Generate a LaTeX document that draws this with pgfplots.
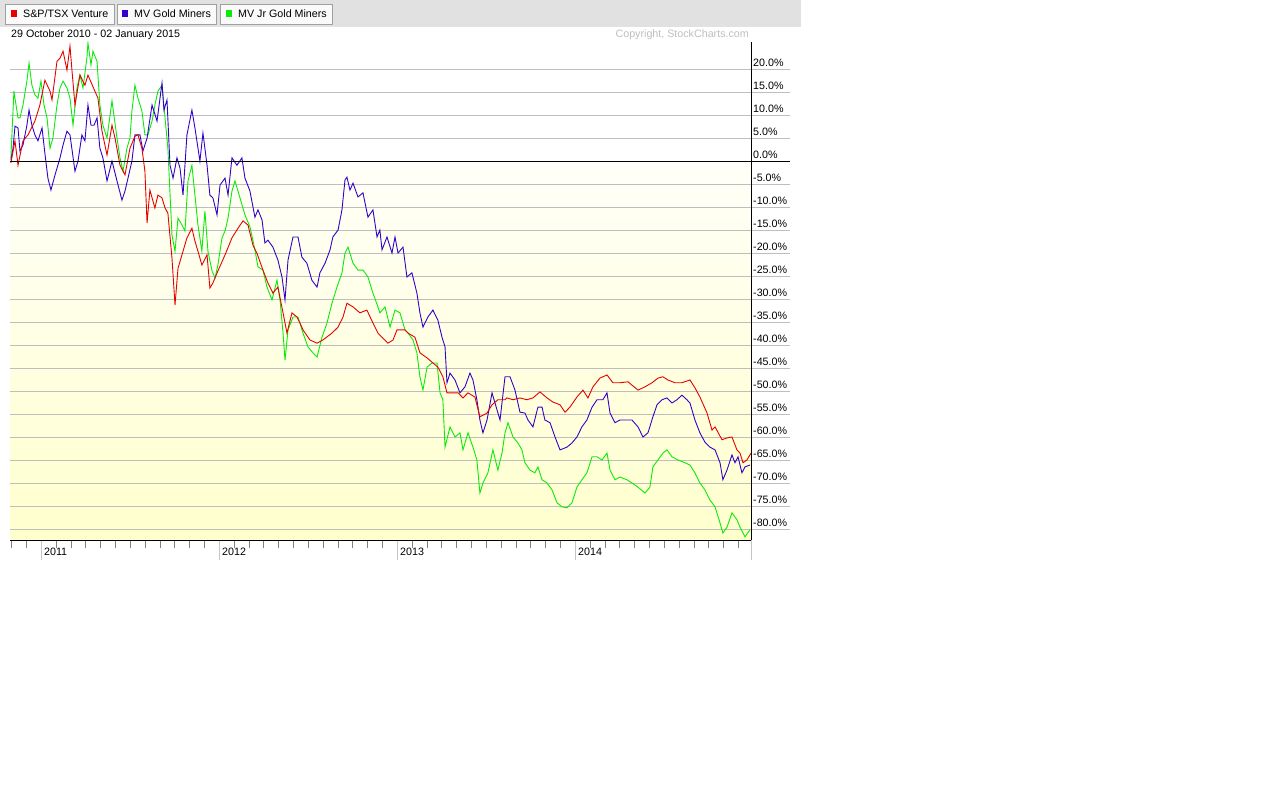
\documentclass[border=0pt]{standalone}
\usepackage{pgfplots}
\pgfplotsset{compat=1.18}
\usepackage{fontspec}
\setmainfont{Liberation Sans}

\definecolor{sred}{RGB}{230,0,0}
\definecolor{sblue}{RGB}{51,0,204}
\definecolor{sgreen}{RGB}{10,235,10}
\definecolor{gridgray}{RGB}{190,190,190}
\definecolor{hdrgray}{RGB}{225,225,225}
\definecolor{btnline}{RGB}{160,160,160}

\begin{document}
\fontsize{10.7}{13}\selectfont
\begin{tikzpicture}[x=1pt,y=1pt]
\fill[white] (0,0) rectangle (1280,-800);
% header bar with the three series buttons
\fill[hdrgray] (0,0) rectangle (801,-27);
\draw[btnline, fill=gray!4] (5,-4) rectangle (114,-24);
\draw[btnline, fill=gray!4] (117,-4) rectangle (216,-24);
\draw[btnline, fill=gray!4] (220,-4) rectangle (332,-24);
\fill[sred] (11,-10) rectangle (17,-17);
\fill[sblue] (122,-10) rectangle (128,-17);
\fill[sgreen] (226,-10) rectangle (232,-17);
\node[anchor=base west, inner sep=0pt] at (23,-18) {S\&P/TSX Venture};
\node[anchor=base west, inner sep=0pt] at (134,-18) {MV Gold Miners};
\node[anchor=base west, inner sep=0pt] at (238,-18) {MV Jr Gold Miners};
\node[anchor=base west, inner sep=0pt] at (11,-37.5) {29 October 2010 - 02 January 2015};
\node[anchor=base east, inner sep=0pt, text=gray!50] at (749,-38) {Copyright, StockCharts.com};
% pale yellow below the zero line
\fill[top color={rgb,255:red,255;green,255;blue,248}, bottom color={rgb,255:red,255;green,255;blue,205}]
  (10,-161.5) rectangle (751,-540);
% grid lines run on past the right axis under the labels
\foreach \v in {-80,-75,...,20} {
  \pgfmathsetmacro{\yy}{-540+4.59834*(\v+82.3)}
  \draw[gridgray] (751,\yy) -- (790,\yy);
}

\begin{axis}[
    at={(10pt,-540pt)}, anchor=south west,
    scale only axis, width=741pt, height=498pt,
    xmin=2010.826, xmax=2014.989, ymin=-82.3, ymax=26,
    axis line style={draw=none},
    xtick={2011,2012,2013,2014},
    xticklabels={2011,2012,2013,2014},
    minor xtick={2010.8333,2010.9167,
      2011.0833,2011.1667,2011.25,2011.3333,2011.4167,2011.5,2011.5833,2011.6667,2011.75,2011.8333,2011.9167,
      2012.0833,2012.1667,2012.25,2012.3333,2012.4167,2012.5,2012.5833,2012.6667,2012.75,2012.8333,2012.9167,
      2013.0833,2013.1667,2013.25,2013.3333,2013.4167,2013.5,2013.5833,2013.6667,2013.75,2013.8333,2013.9167,
      2014.0833,2014.1667,2014.25,2014.3333,2014.4167,2014.5,2014.5833,2014.6667,2014.75,2014.8333,2014.9167},
    xtick pos=bottom, tick align=outside,
    major tick length=20pt, minor tick length=8pt,
    major x tick style={gray!45},
    minor x tick style={gray},
    ytick={-80,-75,...,20},
    ymajorgrids,
    major grid style={gridgray},
    ytick pos=right,
    ytick style={draw=none},
    /pgf/number format/assume math mode=true,
    yticklabel={\pgfmathprintnumber[fixed,fixed zerofill,precision=1]{\tick}\%},
    yticklabel style={anchor=south west, inner sep=0pt, xshift=-18pt, yshift=3pt},
    xticklabel style={anchor=base west, inner sep=0pt, xshift=3pt, yshift=4.5pt},
    every axis plot/.append style={line width=0.9pt},
]
\coordinate (zero) at (axis cs:2010.826,0);

% MV Jr Gold Miners
\addplot[sgreen] coordinates {
(2010.831,0.8) (2010.848,15.3) (2010.871,9.5) (2010.882,9.5) (2010.899,12.3) (2010.921,17.5)
(2010.933,21.4) (2010.949,16.6) (2010.966,14.5) (2010.983,13.8) (2011.000,17.5) (2011.017,12.3)
(2011.034,9.5) (2011.051,2.9) (2011.067,5.1) (2011.090,12.3) (2011.107,16.0) (2011.124,17.5)
(2011.146,16.0) (2011.163,13.8) (2011.180,7.9) (2011.202,16.0) (2011.219,18.8) (2011.236,16.0)
(2011.258,22.5) (2011.264,25.8) (2011.281,21.0) (2011.292,24.0) (2011.315,21.8) (2011.331,12.3)
(2011.348,7.9) (2011.371,5.1) (2011.399,13.2) (2011.427,5.1) (2011.444,0.8) (2011.461,-2.1)
(2011.483,2.9) (2011.500,5.1) (2011.511,11.0) (2011.528,16.6) (2011.545,13.8) (2011.567,11.0)
(2011.584,5.8) (2011.601,5.8) (2011.624,8.8) (2011.640,12.3) (2011.657,15.3) (2011.680,16.6)
(2011.697,9.5) (2011.713,2.9) (2011.736,-16.0) (2011.753,-19.5) (2011.770,-12.3) (2011.792,-13.8)
(2011.809,-15.1) (2011.826,-4.2) (2011.848,-0.8) (2011.865,-7.3) (2011.882,-13.8) (2011.904,-19.5)
(2011.921,-10.8) (2011.938,-19.5) (2011.961,-23.8) (2011.978,-25.3) (2011.994,-22.5) (2012.017,-16.6)
(2012.034,-15.1) (2012.051,-12.3) (2012.073,-6.4) (2012.090,-4.2) (2012.118,-7.9) (2012.146,-11.6)
(2012.174,-14.2) (2012.202,-19.2) (2012.219,-22.9) (2012.247,-23.6) (2012.270,-27.3) (2012.298,-30.1)
(2012.326,-25.8) (2012.343,-30.1) (2012.360,-37.3) (2012.371,-43.2) (2012.388,-36.6) (2012.416,-33.8)
(2012.444,-33.8) (2012.472,-37.3) (2012.500,-40.3) (2012.528,-41.6) (2012.551,-42.5) (2012.579,-38.2)
(2012.607,-35.1) (2012.635,-30.8) (2012.663,-27.3) (2012.691,-24.2) (2012.708,-19.9) (2012.725,-18.6)
(2012.753,-22.1) (2012.781,-23.6) (2012.809,-23.6) (2012.837,-25.1) (2012.865,-28.6) (2012.893,-31.6)
(2012.904,-32.9) (2012.933,-31.6) (2012.961,-36.0) (2012.989,-32.3) (2013.017,-32.9) (2013.045,-36.6)
(2013.062,-37.3) (2013.090,-38.8) (2013.112,-41.6) (2013.129,-46.8) (2013.146,-49.7) (2013.169,-44.7)
(2013.197,-43.8) (2013.225,-43.8) (2013.242,-50.3) (2013.258,-51.8) (2013.270,-62.1) (2013.298,-57.7)
(2013.326,-59.9) (2013.354,-59.0) (2013.371,-62.7) (2013.399,-59.0) (2013.427,-62.1) (2013.449,-64.9)
(2013.466,-72.1) (2013.483,-69.9) (2013.511,-67.7) (2013.539,-62.7) (2013.567,-67.1) (2013.590,-63.4)
(2013.607,-59.0) (2013.624,-56.8) (2013.652,-59.9) (2013.680,-61.2) (2013.702,-62.7) (2013.719,-65.5)
(2013.747,-67.1) (2013.775,-67.7) (2013.792,-66.4) (2013.815,-69.2) (2013.843,-69.9) (2013.871,-71.4)
(2013.899,-74.2) (2013.927,-75.1) (2013.955,-75.3) (2013.983,-74.2) (2014.011,-70.8) (2014.039,-69.2)
(2014.067,-67.7) (2014.096,-64.2) (2014.124,-64.2) (2014.152,-64.9) (2014.180,-63.4) (2014.197,-67.1)
(2014.225,-69.2) (2014.253,-68.6) (2014.292,-69.2) (2014.320,-69.9) (2014.354,-70.8) (2014.393,-72.1)
(2014.421,-70.8) (2014.438,-66.4) (2014.466,-64.9) (2014.494,-63.4) (2014.517,-62.7) (2014.545,-64.2)
(2014.579,-64.9) (2014.618,-65.5) (2014.646,-66.0) (2014.674,-67.7) (2014.702,-69.9) (2014.730,-71.4)
(2014.758,-73.6) (2014.787,-75.1) (2014.815,-78.6) (2014.831,-80.8) (2014.854,-79.5) (2014.882,-76.4)
(2014.910,-77.9) (2014.927,-79.5) (2014.955,-81.6) (2014.983,-80.1)
};

% MV Gold Miners
\addplot[sblue] coordinates {
(2010.831,0.3) (2010.843,2.9) (2010.854,7.7) (2010.871,7.3) (2010.882,2.3) (2010.899,3.6)
(2010.921,7.9) (2010.933,11.2) (2010.949,7.9) (2010.966,5.8) (2010.983,4.5) (2011.006,7.3)
(2011.022,1.8) (2011.039,-3.6) (2011.056,-6.2) (2011.079,-2.9) (2011.107,0.8) (2011.124,3.6)
(2011.146,6.6) (2011.163,5.8) (2011.191,-2.1) (2011.208,0.1) (2011.230,5.8) (2011.247,4.5)
(2011.264,12.3) (2011.281,7.9) (2011.298,7.9) (2011.315,9.5) (2011.331,2.9) (2011.348,0.8)
(2011.371,-4.2) (2011.399,0.1) (2011.427,-4.2) (2011.455,-8.4) (2011.472,-6.4) (2011.489,-3.6)
(2011.511,0.1) (2011.528,5.8) (2011.556,5.8) (2011.573,2.3) (2011.596,5.1) (2011.624,12.3)
(2011.652,8.8) (2011.680,17.1) (2011.691,11.2) (2011.708,13.4) (2011.725,-0.8) (2011.742,-3.6)
(2011.764,0.8) (2011.781,-1.4) (2011.798,-7.3) (2011.820,5.8) (2011.848,11.2) (2011.865,7.3)
(2011.893,0.1) (2011.910,6.2) (2011.933,-0.8) (2011.949,-7.3) (2011.966,-7.9) (2011.989,-11.6)
(2012.006,-5.1) (2012.034,-3.6) (2012.051,-7.3) (2012.073,0.8) (2012.101,-0.8) (2012.129,0.8)
(2012.146,-3.6) (2012.174,-6.4) (2012.202,-12.1) (2012.219,-10.5) (2012.242,-12.7) (2012.258,-17.7)
(2012.275,-17.1) (2012.303,-18.6) (2012.331,-21.4) (2012.354,-25.1) (2012.371,-30.1) (2012.388,-21.4)
(2012.416,-16.4) (2012.444,-16.4) (2012.466,-20.8) (2012.494,-22.1) (2012.522,-25.8) (2012.551,-27.3)
(2012.567,-24.2) (2012.596,-22.1) (2012.624,-19.2) (2012.640,-16.4) (2012.669,-14.9) (2012.691,-10.5)
(2012.708,-4.0) (2012.719,-3.4) (2012.736,-6.2) (2012.753,-4.7) (2012.781,-7.7) (2012.809,-6.8)
(2012.837,-12.1) (2012.865,-10.5) (2012.888,-16.4) (2012.904,-14.9) (2012.916,-19.2) (2012.944,-16.4)
(2012.972,-19.9) (2012.989,-16.4) (2013.006,-19.9) (2013.034,-18.6) (2013.056,-25.1) (2013.084,-24.2)
(2013.112,-28.6) (2013.129,-32.9) (2013.146,-36.0) (2013.174,-33.8) (2013.202,-32.3) (2013.230,-34.5)
(2013.253,-38.2) (2013.270,-40.3) (2013.281,-48.1) (2013.298,-46.0) (2013.326,-47.5) (2013.354,-50.3)
(2013.382,-49.0) (2013.410,-46.0) (2013.427,-47.5) (2013.449,-51.8) (2013.466,-56.2) (2013.483,-59.0)
(2013.506,-56.2) (2013.534,-50.3) (2013.562,-54.0) (2013.579,-56.2) (2013.607,-46.8) (2013.635,-46.8)
(2013.663,-49.7) (2013.691,-54.5) (2013.719,-54.7) (2013.736,-56.2) (2013.764,-57.7) (2013.792,-53.4)
(2013.815,-53.4) (2013.831,-56.2) (2013.860,-56.8) (2013.888,-59.9) (2013.916,-62.7) (2013.955,-62.1)
(2013.983,-61.2) (2014.011,-59.9) (2014.039,-57.7) (2014.067,-56.2) (2014.096,-53.4) (2014.124,-51.8)
(2014.157,-51.8) (2014.180,-50.3) (2014.197,-54.7) (2014.225,-56.8) (2014.253,-56.2) (2014.292,-56.2)
(2014.320,-56.2) (2014.354,-57.7) (2014.382,-59.9) (2014.410,-59.0) (2014.438,-55.5) (2014.461,-52.9)
(2014.489,-51.8) (2014.517,-51.4) (2014.545,-52.5) (2014.573,-51.8) (2014.601,-50.8) (2014.629,-51.8)
(2014.646,-52.5) (2014.674,-56.2) (2014.702,-59.0) (2014.730,-61.0) (2014.758,-62.1) (2014.787,-62.7)
(2014.815,-65.5) (2014.831,-69.2) (2014.854,-67.1) (2014.882,-63.8) (2014.899,-65.5) (2014.916,-64.2)
(2014.938,-67.7) (2014.955,-66.4) (2014.983,-66.0)
};

% S&P/TSX Venture
\addplot[sred] coordinates {
(2010.831,-0.3) (2010.854,4.5) (2010.871,-0.8) (2010.899,4.5) (2010.927,5.8) (2010.966,8.8)
(2010.994,12.3) (2011.022,17.7) (2011.051,15.3) (2011.062,13.4) (2011.090,21.8) (2011.107,22.5)
(2011.124,24.0) (2011.146,19.9) (2011.163,25.1) (2011.174,19.9) (2011.191,12.3) (2011.219,18.8)
(2011.247,16.6) (2011.264,18.8) (2011.303,15.3) (2011.320,13.8) (2011.343,6.6) (2011.371,1.4)
(2011.399,7.9) (2011.416,5.1) (2011.444,-0.8) (2011.472,-2.9) (2011.500,2.9) (2011.528,5.5)
(2011.545,5.8) (2011.567,2.9) (2011.584,-2.1) (2011.596,-13.4) (2011.612,-6.2) (2011.640,-10.1)
(2011.657,-7.3) (2011.680,-7.9) (2011.697,-10.1) (2011.713,-11.2) (2011.736,-21.0) (2011.753,-31.2)
(2011.770,-23.2) (2011.792,-20.3) (2011.820,-16.6) (2011.848,-14.5) (2011.865,-17.3) (2011.882,-19.5)
(2011.904,-22.5) (2011.933,-20.3) (2011.949,-27.5) (2011.966,-26.4) (2011.994,-23.8) (2012.034,-20.3)
(2012.073,-16.6) (2012.107,-14.5) (2012.135,-12.9) (2012.163,-13.8) (2012.191,-18.2) (2012.213,-19.9)
(2012.247,-23.6) (2012.275,-26.4) (2012.303,-28.6) (2012.331,-27.3) (2012.360,-32.9) (2012.382,-37.3)
(2012.410,-32.9) (2012.438,-33.8) (2012.455,-35.1) (2012.472,-36.6) (2012.511,-38.8) (2012.551,-39.5)
(2012.584,-38.8) (2012.635,-37.3) (2012.669,-36.0) (2012.697,-33.8) (2012.719,-30.8) (2012.753,-31.6)
(2012.792,-32.9) (2012.831,-32.3) (2012.865,-35.1) (2012.893,-37.3) (2012.916,-38.2) (2012.949,-39.5)
(2012.978,-38.8) (2013.000,-36.6) (2013.045,-36.6) (2013.062,-37.3) (2013.101,-38.2) (2013.129,-41.6)
(2013.169,-42.7) (2013.202,-43.8) (2013.230,-44.7) (2013.258,-46.8) (2013.281,-50.3) (2013.309,-50.3)
(2013.343,-50.3) (2013.371,-51.4) (2013.399,-50.3) (2013.438,-51.2) (2013.466,-55.5) (2013.506,-54.7)
(2013.534,-52.9) (2013.567,-51.8) (2013.607,-51.8) (2013.618,-51.4) (2013.652,-51.8) (2013.691,-51.4)
(2013.730,-51.8) (2013.764,-51.4) (2013.803,-50.1) (2013.843,-51.4) (2013.876,-52.3) (2013.916,-52.9)
(2013.944,-54.5) (2013.972,-53.4) (2014.011,-51.2) (2014.045,-49.7) (2014.073,-51.4) (2014.101,-49.0)
(2014.140,-47.1) (2014.180,-46.4) (2014.213,-48.1) (2014.253,-48.1) (2014.298,-47.9) (2014.354,-49.7)
(2014.393,-49.0) (2014.433,-48.1) (2014.466,-47.1) (2014.494,-46.8) (2014.522,-47.5) (2014.562,-48.1)
(2014.601,-48.1) (2014.646,-47.5) (2014.674,-49.2) (2014.702,-51.2) (2014.742,-54.7) (2014.770,-58.4)
(2014.787,-57.7) (2014.826,-60.5) (2014.854,-60.1) (2014.882,-59.9) (2014.910,-62.7) (2014.927,-63.4)
(2014.944,-65.5) (2014.966,-64.9) (2014.989,-63.4)
};
\end{axis}
% zero line and the two drawn axis lines
\draw[black, line width=1pt] (zero) -- ++(780,0);
\draw[black] (10,-540) -- (751,-540);
\draw[black] (751,-42) -- (751,-540);
\draw[gray!45] (751,-540) -- (751,-560);
\end{tikzpicture}
\end{document}
